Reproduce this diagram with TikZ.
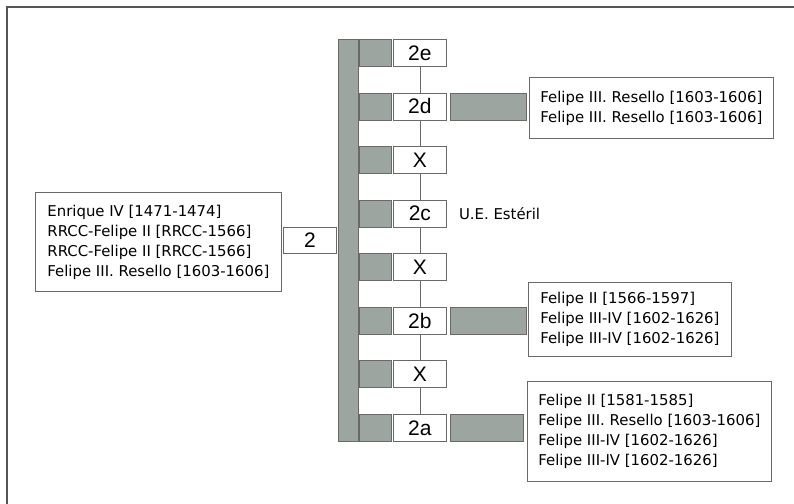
\documentclass[tikz,border=0pt]{standalone}
\usepackage{fontspec}
\setmainfont{DejaVu Sans}
\newfontfamily\labelfont{Liberation Sans}
\usetikzlibrary{positioning}

\definecolor{bargray}{RGB}{157,165,161}
\definecolor{edgegray}{RGB}{105,105,105}
\definecolor{framegray}{RGB}{85,85,85}

\tikzset{
  graybox/.style={draw=edgegray, fill=bargray, line width=0.8pt, inner sep=0pt, anchor=north west},
  labelbox/.style={draw=edgegray, fill=white, line width=0.8pt, inner sep=0pt, anchor=north west,
    minimum width=53pt, minimum height=27pt, font=\labelfont\fontsize{21}{21}\selectfont},
  listbox/.style={draw=edgegray, fill=white, line width=0.8pt, anchor=north west, align=left,
    inner xsep=9pt, inner ysep=0pt, font=\fontsize{14.9}{20}\selectfont},
}

\begin{document}
\begin{tikzpicture}[x=1pt,y=-1pt]

\useasboundingbox (0,0) rectangle (794,503);

% frame
\draw[line width=2pt,framegray] (7,510) -- (7,7) -- (800,7);

% main bar
\node[graybox, minimum width=20pt, minimum height=402pt] (bar) at (338,39) {};

% rows of units
\foreach \n/\t [count=\i from 0] in {e/2e,d/2d,xa/X,c/2c,xb/X,b/2b,xc/X,a/2a}{
  \node[graybox, minimum width=32pt, minimum height=27pt] (sq\n) at (359,39+\i*53.57) {};
  \node[labelbox] (lb\n) at (393,39+\i*53.57) {\t};
}

% thin line through the labels
\foreach \p/\q in {e/d,d/xa,xa/c,c/xb,xb/b,b/xc,xc/a}
  \draw[edgegray,line width=0.8pt] (lb\p.south) -- (lb\q.north);

% wide bars
\node[graybox, minimum width=76pt, minimum height=27pt] (wd) at (450,93) {};
\node[graybox, minimum width=76pt, minimum height=27pt] (wb) at (450,307) {};
\node[graybox, minimum width=73pt, minimum height=27pt] (wa) at (450,414) {};

% lists
\node[listbox, minimum width=244pt, minimum height=61pt] (rd) at (529,77)
  {Felipe III. Resello [1603-1606]\\Felipe III. Resello [1603-1606]};
\node[listbox, minimum width=203pt, minimum height=74pt] (rb) at (528,282)
  {Felipe II [1566-1597]\\Felipe III-IV [1602-1626]\\Felipe III-IV [1602-1626]};
\node[listbox, minimum width=244pt, minimum height=100pt] (ra) at (527,381)
  {Felipe II [1581-1585]\\Felipe III. Resello [1603-1606]\\Felipe III-IV [1602-1626]\\Felipe III-IV [1602-1626]};

\node[right=12pt of lbc, inner sep=0pt, font=\fontsize{14.9}{20}\selectfont] (ster) {U.E. Estéril};

% source
\node[listbox, minimum width=246pt, minimum height=99pt] (src) at (35,192)
  {Enrique IV [1471-1474]\\RRCC-Felipe II [RRCC-1566]\\RRCC-Felipe II [RRCC-1566]\\Felipe III. Resello [1603-1606]};
\node[labelbox, minimum height=26pt] (two) at (283,227) {2};

\end{tikzpicture}
\end{document}
